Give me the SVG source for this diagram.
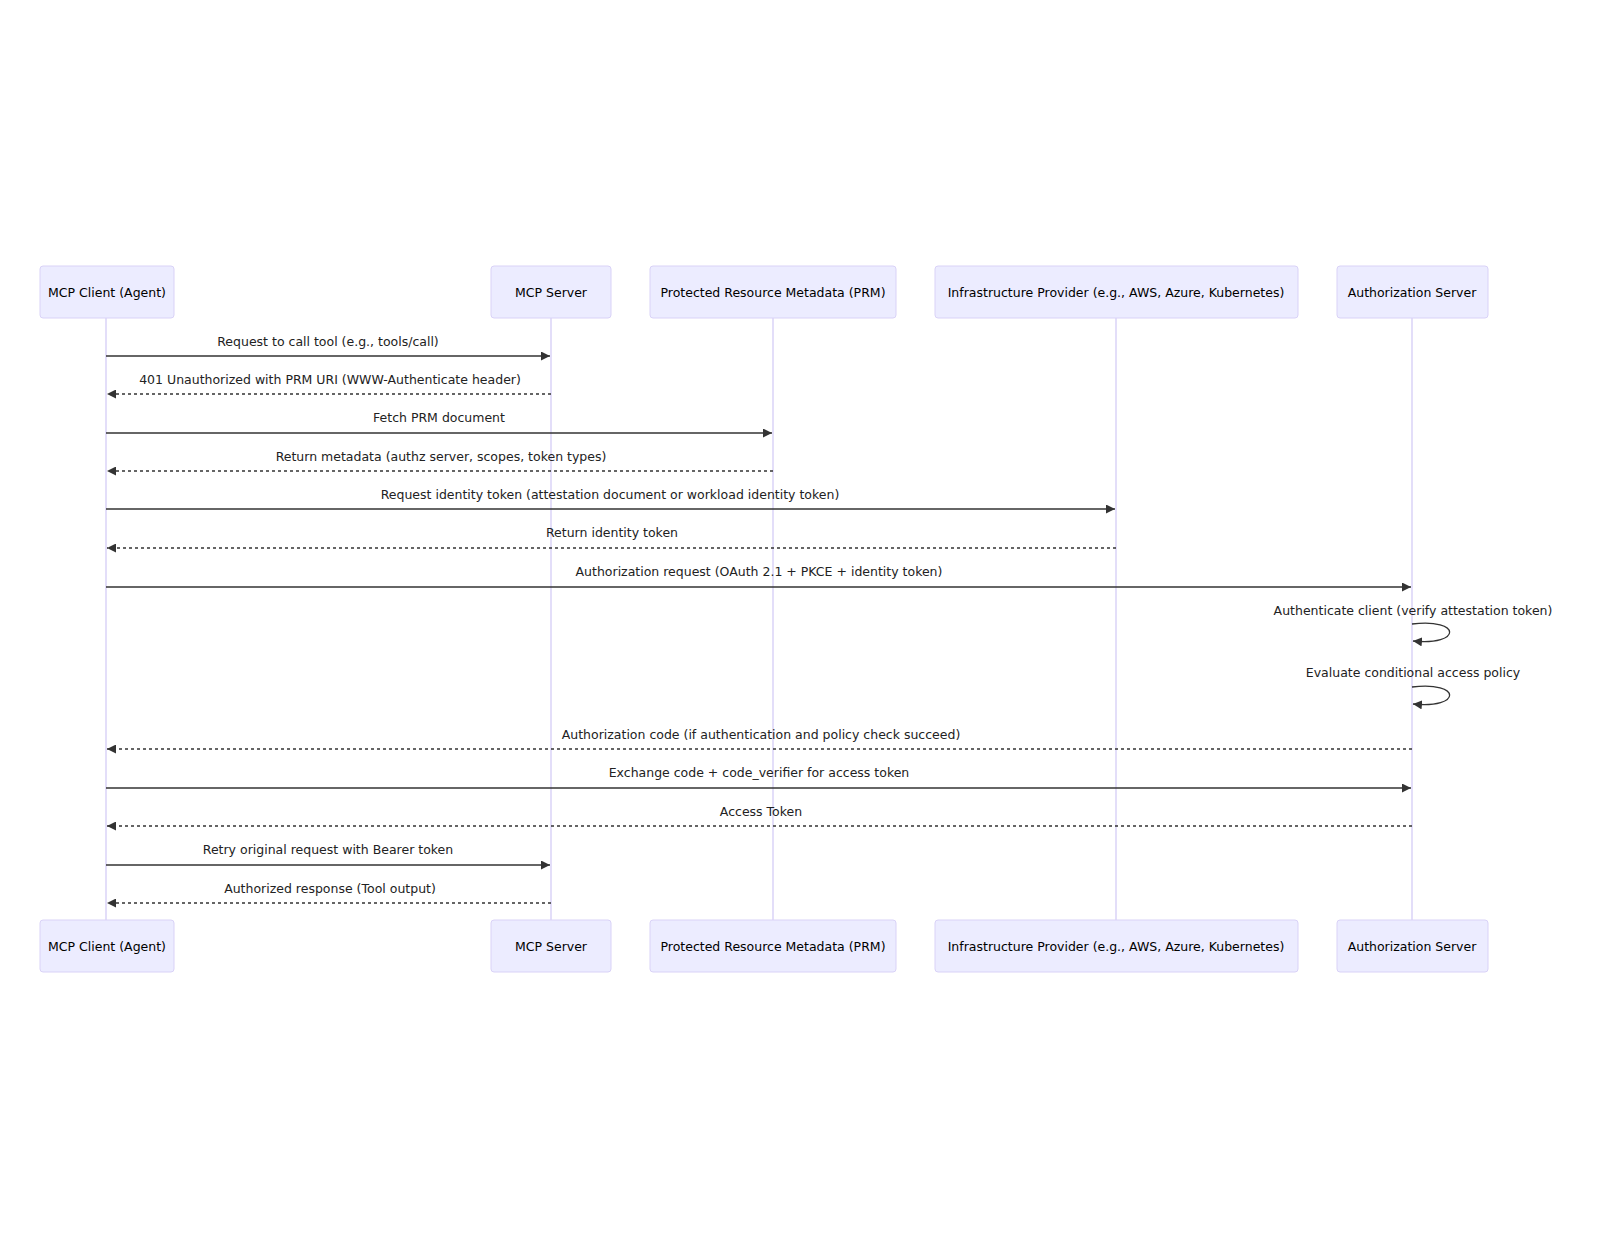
<svg xmlns="http://www.w3.org/2000/svg" width="1600" height="1238" viewBox="0 0 1600 1238">
<style>
.actor{fill:#ECECFF;stroke:#D9D2F7;stroke-width:1}
.lt{font-family:"DejaVu Sans","Liberation Sans",sans-serif;font-size:12.5px;fill:#000;text-anchor:middle;dominant-baseline:central}
.life{stroke:#D1C8F5;stroke-width:1.2}
.msg{stroke:#333;stroke-width:1.3;fill:none}
.dash{stroke-dasharray:3,3}
.ml{font-family:"DejaVu Sans","Liberation Sans",sans-serif;font-size:12.5px;fill:#222;text-anchor:middle}
</style>
<defs>
<marker id="ah" viewBox="0 0 10 10" refX="10" refY="5" markerWidth="9" markerHeight="9" markerUnits="userSpaceOnUse" orient="auto"><path d="M0,0L10,5L0,10z" fill="#333"/></marker>
</defs>
<rect width="1600" height="1238" fill="#fff"/>
<g id="lifelines">
<line class="life" x1="106" y1="318" x2="106" y2="920"/>
<line class="life" x1="551" y1="318" x2="551" y2="920"/>
<line class="life" x1="773" y1="318" x2="773" y2="920"/>
<line class="life" x1="1116" y1="318" x2="1116" y2="920"/>
<line class="life" x1="1412" y1="318" x2="1412" y2="920"/>
</g>
<g id="client"><rect class="actor" x="40" y="266" width="134" height="52" rx="3"/><text class="lt" x="107" y="292">MCP Client (Agent)</text>
<rect class="actor" x="40" y="920" width="134" height="52" rx="3"/><text class="lt" x="107" y="946">MCP Client (Agent)</text></g>
<g id="server"><rect class="actor" x="491" y="266" width="120" height="52" rx="3"/><text class="lt" x="551" y="292">MCP Server</text>
<rect class="actor" x="491" y="920" width="120" height="52" rx="3"/><text class="lt" x="551" y="946">MCP Server</text></g>
<g id="prm"><rect class="actor" x="650" y="266" width="246" height="52" rx="3"/><text class="lt" x="773" y="292">Protected Resource Metadata (PRM)</text>
<rect class="actor" x="650" y="920" width="246" height="52" rx="3"/><text class="lt" x="773" y="946">Protected Resource Metadata (PRM)</text></g>
<g id="infra"><rect class="actor" x="935" y="266" width="363" height="52" rx="3"/><text class="lt" x="1116" y="292">Infrastructure Provider (e.g., AWS, Azure, Kubernetes)</text>
<rect class="actor" x="935" y="920" width="363" height="52" rx="3"/><text class="lt" x="1116" y="946">Infrastructure Provider (e.g., AWS, Azure, Kubernetes)</text></g>
<g id="authz"><rect class="actor" x="1337" y="266" width="151" height="52" rx="3"/><text class="lt" x="1412" y="292">Authorization Server</text>
<rect class="actor" x="1337" y="920" width="151" height="52" rx="3"/><text class="lt" x="1412" y="946">Authorization Server</text></g>
<g id="connectors">
<line class="msg" x1="106" y1="356" x2="550" y2="356" marker-end="url(#ah)"/><text class="ml" x="328" y="346">Request to call tool (e.g., tools/call)</text>
<line class="msg dash" x1="551" y1="394" x2="107" y2="394" marker-end="url(#ah)"/><text class="ml" x="330" y="384">401 Unauthorized with PRM URI (WWW-Authenticate header)</text>
<line class="msg" x1="106" y1="433" x2="772" y2="433" marker-end="url(#ah)"/><text class="ml" x="439" y="422">Fetch PRM document</text>
<line class="msg dash" x1="773" y1="471" x2="107" y2="471" marker-end="url(#ah)"/><text class="ml" x="441" y="461">Return metadata (authz server, scopes, token types)</text>
<line class="msg" x1="106" y1="509" x2="1115" y2="509" marker-end="url(#ah)"/><text class="ml" x="610" y="499">Request identity token (attestation document or workload identity token)</text>
<line class="msg dash" x1="1116" y1="548" x2="107" y2="548" marker-end="url(#ah)"/><text class="ml" x="612" y="537">Return identity token</text>
<line class="msg" x1="106" y1="587" x2="1411" y2="587" marker-end="url(#ah)"/><text class="ml" x="759" y="576">Authorization request (OAuth 2.1 + PKCE + identity token)</text>
<text class="ml" x="1413" y="615">Authenticate client (verify attestation token)</text>
<path class="msg" d="M1412,624 C1462,618 1462,646 1413,641" marker-end="url(#ah)"/>
<text class="ml" x="1413" y="677">Evaluate conditional access policy</text>
<path class="msg" d="M1412,687 C1462,681 1462,709 1413,704" marker-end="url(#ah)"/>
<line class="msg dash" x1="1412" y1="749" x2="107" y2="749" marker-end="url(#ah)"/><text class="ml" x="761" y="739">Authorization code (if authentication and policy check succeed)</text>
<line class="msg" x1="106" y1="788" x2="1411" y2="788" marker-end="url(#ah)"/><text class="ml" x="759" y="777">Exchange code + code_verifier for access token</text>
<line class="msg dash" x1="1412" y1="826" x2="107" y2="826" marker-end="url(#ah)"/><text class="ml" x="761" y="816">Access Token</text>
<line class="msg" x1="106" y1="865" x2="550" y2="865" marker-end="url(#ah)"/><text class="ml" x="328" y="854">Retry original request with Bearer token</text>
<line class="msg dash" x1="551" y1="903" x2="107" y2="903" marker-end="url(#ah)"/><text class="ml" x="330" y="893">Authorized response (Tool output)</text>
</g>
</svg>
